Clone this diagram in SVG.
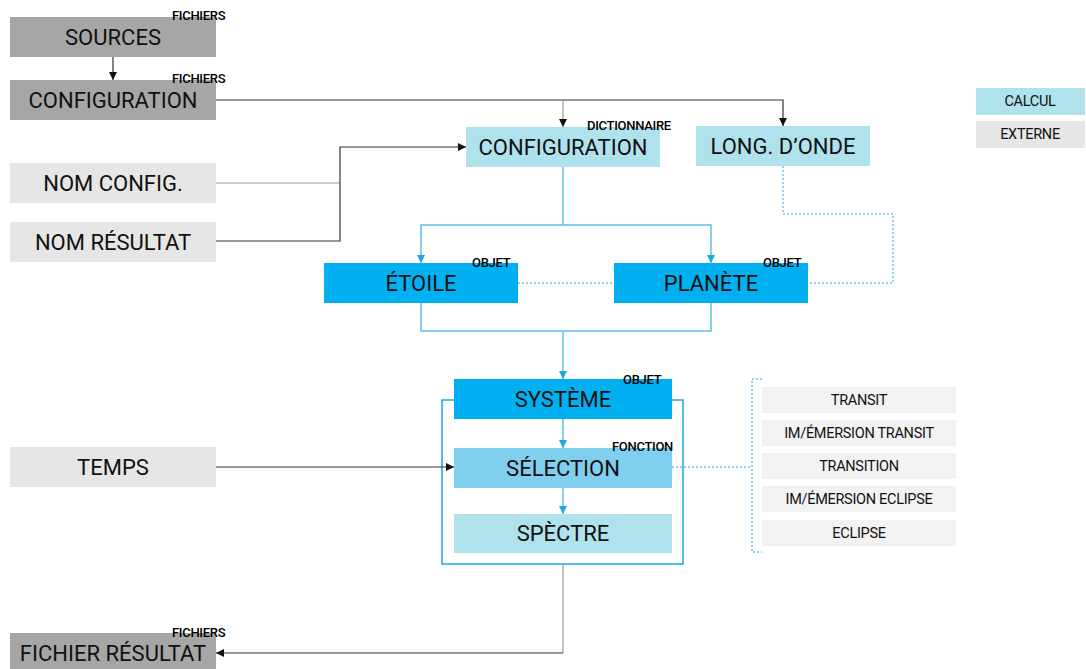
<svg xmlns="http://www.w3.org/2000/svg" width="1086" height="669" viewBox="0 0 1086 669">
<style>
.t{font-family:Roboto,"Liberation Sans",Arial,sans-serif;font-size:22px;fill:#111;text-anchor:middle}
.s{font-family:Roboto,"Liberation Sans",Arial,sans-serif;font-size:13px;font-weight:500;fill:#000;letter-spacing:-0.3px}
.l{font-family:Roboto,"Liberation Sans",Arial,sans-serif;font-size:14.5px;fill:#111;text-anchor:middle;letter-spacing:-0.3px}
.ext{fill:#a6a6a6}
.inp{fill:#e6e6e6}
.calc{fill:#b0e2ee}
.obj{fill:#00b0f0}
.fn{fill:#80cfee}
.opt{fill:#f2f2f2}
.k{fill:none;stroke:#333;stroke-width:1.2}
.g{fill:none;stroke:#999;stroke-width:1.2}
.b{fill:none;stroke:#5cc0ea;stroke-width:1.5}
.d{fill:none;stroke:#1ea7e0;stroke-width:1;stroke-dasharray:2 2}
</style>
<defs>
<marker id="ak" markerWidth="10" markerHeight="10" refX="8" refY="4" orient="auto" markerUnits="userSpaceOnUse"><path d="M0,0 L8,4 L0,8 Z" fill="#111"/></marker>
<marker id="ab" markerWidth="10" markerHeight="10" refX="8" refY="4" orient="auto" markerUnits="userSpaceOnUse"><path d="M0,0 L8,4 L0,8 Z" fill="#1ea7e0"/></marker>
</defs>
<g id="connectors">
<path class="k" d="M113 57 V80" marker-end="url(#ak)"/>
<path class="k" d="M216 100 H563"/>
<path class="g" d="M563 100 V127" marker-end="url(#ak)"/>
<path class="k" d="M563 100 H783 V126" marker-end="url(#ak)"/>
<path class="g" d="M216 183 H340"/>
<path class="k" d="M216 241 H340 V147 H466" marker-end="url(#ak)"/>
<path class="b" d="M563 167 V225"/>
<path class="b" d="M563 225 H421 V263" marker-end="url(#ab)"/>
<path class="b" d="M563 225 H711 V263" marker-end="url(#ab)"/>
<path class="d" d="M518 283 H614"/>
<path class="d" d="M783 166 V214 H893 V283 H808"/>
<path class="b" d="M421 303 V331 H711 V303"/>
<path class="b" d="M563 331 V379" marker-end="url(#ab)"/>
<rect x="442" y="400" width="241" height="164" fill="none" stroke="#1ea7e0" stroke-width="1.5"/>
<path class="b" d="M563 419 V448" marker-end="url(#ab)"/>
<path class="b" d="M563 488 V514" marker-end="url(#ab)"/>
<path class="k" d="M216 467 H454" marker-end="url(#ak)"/>
<path class="g" d="M563 564 V653"/>
<path class="k" d="M563 653 H216" marker-end="url(#ak)"/>
<path class="d" d="M672 467 H752"/>
<path class="d" d="M762 379 H752 V552 H762"/>
</g>
<g id="sources"><rect class="ext" x="10" y="17" width="206" height="40"/><text class="t" x="113" y="45">SOURCES</text><text class="s" x="172" y="20">FICHIERS</text></g>
<g id="config-file"><rect class="ext" x="10" y="80" width="206" height="40"/><text class="t" x="113" y="108">CONFIGURATION</text><text class="s" x="172" y="83">FICHIERS</text></g>
<g id="nom-config"><rect class="inp" x="10" y="163" width="206" height="40"/><text class="t" x="113" y="191">NOM CONFIG.</text></g>
<g id="nom-resultat"><rect class="inp" x="10" y="222" width="206" height="40"/><text class="t" x="113" y="250">NOM RÉSULTAT</text></g>
<g id="config-dict"><rect class="calc" x="466" y="127" width="194" height="40"/><text class="t" x="563" y="155">CONFIGURATION</text><text class="s" x="587" y="130">DICTIONNAIRE</text></g>
<g id="longonde"><rect class="calc" x="696" y="126" width="174" height="40"/><text class="t" x="783" y="154">LONG. D’ONDE</text></g>
<g id="etoile"><rect class="obj" x="324" y="263" width="194" height="40"/><text class="t" x="421" y="291">ÉTOILE</text><text class="s" x="472" y="267">OBJET</text></g>
<g id="planete"><rect class="obj" x="614" y="263" width="194" height="40"/><text class="t" x="711" y="291">PLANÈTE</text><text class="s" x="763" y="267">OBJET</text></g>
<g id="systeme"><rect class="obj" x="454" y="379" width="218" height="40"/><text class="t" x="563" y="407">SYSTÈME</text><text class="s" x="623" y="384">OBJET</text></g>
<g id="selection"><rect class="fn" x="454" y="448" width="218" height="40"/><text class="t" x="563" y="476">SÉLECTION</text><text class="s" x="612" y="451">FONCTION</text></g>
<g id="spectre"><rect class="calc" x="454" y="514" width="218" height="39"/><text class="t" x="563" y="541">SPÈCTRE</text></g>
<g id="temps"><rect class="inp" x="10" y="447" width="206" height="40"/><text class="t" x="113" y="475">TEMPS</text></g>
<g id="fichier-resultat"><rect class="ext" x="10" y="633" width="206" height="40"/><text class="t" x="113" y="661">FICHIER RÉSULTAT</text><text class="s" x="172" y="637">FICHIERS</text></g>
<g id="opt-transit"><rect class="opt" x="762" y="387" width="194" height="26"/><text class="l" x="859" y="405">TRANSIT</text></g>
<g id="opt-im-transit"><rect class="opt" x="762" y="420" width="194" height="26"/><text class="l" x="859" y="438">IM/ÉMERSION TRANSIT</text></g>
<g id="opt-transition"><rect class="opt" x="762" y="453" width="194" height="26"/><text class="l" x="859" y="471">TRANSITION</text></g>
<g id="opt-im-eclipse"><rect class="opt" x="762" y="486" width="194" height="26"/><text class="l" x="859" y="504">IM/ÉMERSION ECLIPSE</text></g>
<g id="opt-eclipse"><rect class="opt" x="762" y="520" width="194" height="26"/><text class="l" x="859" y="538">ECLIPSE</text></g>
<g id="legend-calcul"><rect class="calc" x="976" y="88" width="109" height="27"/><text class="l" x="1030" y="106">CALCUL</text></g>
<g id="legend-externe"><rect class="inp" x="976" y="121" width="109" height="27"/><text class="l" x="1030" y="139">EXTERNE</text></g>
</svg>
